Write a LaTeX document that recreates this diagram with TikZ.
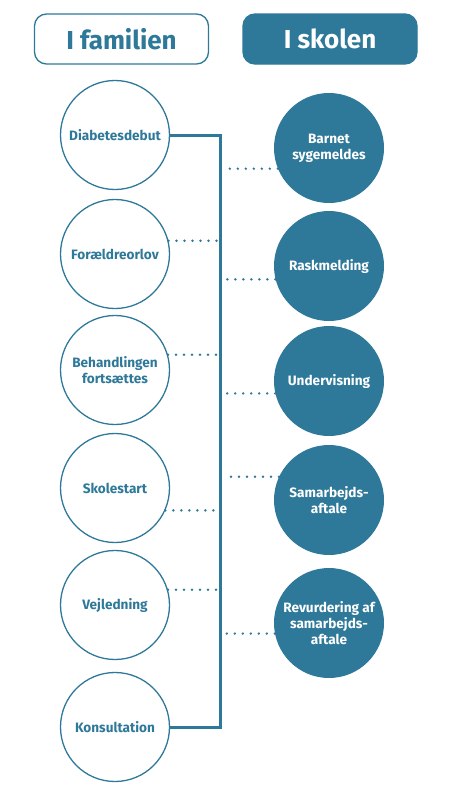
\documentclass[tikz,border=0pt]{standalone}
\usepackage{fontspec}
\setmainfont{Fira Sans}
\usetikzlibrary{positioning}
\definecolor{petrol}{RGB}{46,120,153}

\begin{document}
\begin{tikzpicture}[
  x=1pt, y=-1pt,
  head/.style = {draw=petrol, line width=1.3pt, rounded corners=12pt,
    minimum width=174pt, minimum height=50pt, inner sep=0pt,
    font=\fontsize{26}{30}\selectfont\bfseries},
  home/.style = {circle, draw=petrol, line width=1.3pt, minimum size=109pt,
    inner sep=0pt, text=petrol, align=center,
    font=\fontsize{13.6}{16}\selectfont\bfseries},
  school/.style = {circle, fill=petrol, minimum size=110pt, inner sep=0pt,
    text=white, align=center, font=\fontsize{13.6}{16}\selectfont\bfseries},
  trunk/.style = {draw=petrol, line width=3pt},
  dots/.style = {draw=petrol, line width=2.7pt, line cap=round,
    dash pattern=on 0pt off 8pt}
  ]
	\useasboundingbox (0,0) rectangle (461,804);

	% headings
	\node[head, text=petrol] (famhead) at (121.5,39) {I familien};
	\node[head, fill=petrol, text=white] (skohead) at (330,39) {I skolen};

	% family column
	\node[home] (fam1) at (115,135) {Diabetesdebut};
	\node[home] (fam2) at (115,254) {Forældreorlov};
	\node[home] (fam3) at (115,370) {Behandlingen\\fortsættes};
	\node[home] (fam4) at (115,488) {Skolestart};
	\node[home] (fam5) at (115,605) {Vejledning};
	\node[home] (fam6) at (115,727) {Konsultation};

	% school column
	\node[school] (sko1) at (329,148) {Barnet\\sygemeldes};
	\node[school] (sko2) at (329,266) {Raskmelding};
	\node[school] (sko3) at (329,381) {Undervisning};
	\node[school] (sko4) at (329,500) {Samarbejds-\\aftale};
	\node[school] (sko5) at (329,623) {Revurdering af\\samarbejds-\\aftale};

	% time line
	\coordinate (top) at (220,135);
	\coordinate (bottom) at (220,727);
	\draw[trunk] (fam1.east) -- (top) -- (bottom) -- (fam6.east);

	\draw[dots] (fam2.14) -- (fam2.14 -| top);
	\draw[dots] (fam3.16) -- (fam3.16 -| top);
	\draw[dots] (fam4.-24) -- (fam4.-24 -| top);
	\draw[dots] (fam5.16) -- (fam5.16 -| top);

	\draw[dots] (sko1.202) -- ([xshift=4pt]sko1.202 -| top);
	\draw[dots] (sko2.194) -- ([xshift=4pt]sko2.194 -| top);
	\draw[dots] (sko3.193) -- ([xshift=4pt]sko3.193 -| top);
	\draw[dots] (sko4.155) -- ([xshift=4pt]sko4.155 -| top);
	\draw[dots] (sko5.191) -- ([xshift=4pt]sko5.191 -| top);

\end{tikzpicture}
\end{document}
